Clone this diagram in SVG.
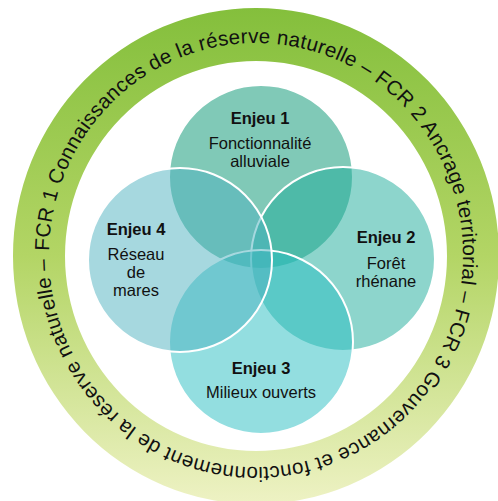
<svg xmlns="http://www.w3.org/2000/svg" width="498" height="501" viewBox="0 0 498 501">
  <defs>
    <linearGradient id="ringGrad" x1="0" y1="0" x2="0" y2="1">
      <stop offset="0" stop-color="#84bf3c"/>
      <stop offset="0.5" stop-color="#b3d565"/>
      <stop offset="1" stop-color="#eef2c4"/>
    </linearGradient>
    <path id="ringPath" d="M 49,251 A 207,212 0 1 1 463,259 A 207,212 0 1 1 49,251"/>
  </defs>
  <style>
    .venn { fill-opacity: 0.5; stroke: #ffffff; stroke-width: 2; }
    .t { font-family: "Liberation Sans", Arial, sans-serif; font-size: 16.5px; fill: #111111; text-anchor: middle; }
    .b { font-weight: bold; }
    .ring-text { font-family: "Liberation Sans", Arial, sans-serif; font-size: 20.5px; fill: #111111; }
  </style>

  <g id="ring">
    <path d="M 13,256 A 243,248 0 1 0 499,256 A 243,248 0 1 0 13,256 Z M 65,256 A 191,195 0 1 1 447,256 A 191,195 0 1 1 65,256 Z" fill="url(#ringGrad)" fill-rule="evenodd"/>
    <text class="ring-text"><textPath href="#ringPath" textLength="1308" lengthAdjust="spacing">FCR 1 Connaissances de la réserve naturelle – FCR 2 Ancrage territorial – FCR 3 Gouvernance et fonctionnement de la réserve naturelle –</textPath></text>
  </g>

  <g id="enjeu1">
    <circle class="venn" cx="261" cy="177" r="92" fill="#01936f"/>
    <text class="t b" x="260" y="124">Enjeu 1</text>
    <text class="t" x="260" y="149">Fonctionnalité</text>
    <text class="t" x="260" y="166.5">alluviale</text>
  </g>

  <g id="enjeu2">
    <circle class="venn" cx="343" cy="259" r="92" fill="#1bab99"/>
    <text class="t b" x="386" y="243">Enjeu 2</text>
    <text class="t" x="386" y="269">Forêt</text>
    <text class="t" x="386" y="287">rhénane</text>
  </g>

  <g id="enjeu3">
    <circle class="venn" cx="261" cy="342" r="92" fill="#27bdc1"/>
    <text class="t b" x="261" y="374">Enjeu 3</text>
    <text class="t" x="261" y="398">Milieux ouverts</text>
  </g>

  <g id="enjeu4">
    <circle class="venn" cx="180" cy="260" r="92" fill="#4db1bf"/>
    <text class="t b" x="136" y="235">Enjeu 4</text>
    <text class="t" x="136" y="260">Réseau</text>
    <text class="t" x="136" y="278">de</text>
    <text class="t" x="136" y="296">mares</text>
  </g>

  <g id="connectors"/>
</svg>
